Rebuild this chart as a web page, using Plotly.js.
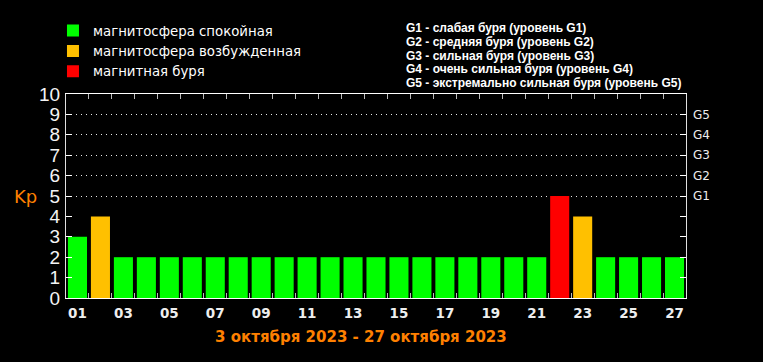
<!DOCTYPE html>
<html><head><meta charset="utf-8">
<script src="https://cdn.plot.ly/plotly-3.0.1.min.js"></script>
<style>html,body{margin:0;padding:0;background:#000;}#chart{width:763px;height:362px;}</style>
</head><body><div id="chart"></div>
<script>
// ---- data ----
const days = [1,2,3,4,5,6,7,8,9,10,11,12,13,14,15,16,17,18,19,20,21,22,23,24,25,26,27];
const kp   = [3,4,2,2,2,2,2,2,2,2,2,2,2,2,2,2,2,2,2,2,2,5,4,2,2,2,2];
const dayLabels = ['01','03','05','07','09','11','13','15','17','19','21','23','25','27'];
const dayLabelVals = [1,3,5,7,9,11,13,15,17,19,21,23,25,27];
const statusNames = ['магнитосфера спокойная','магнитосфера возбужденная','магнитная буря'];
const statusColors = ['#00ff00','#ffc000','#ff0000'];
const gLevels = [5,6,7,8,9];
const gLabels = ['G1','G2','G3','G4','G5'];
const kpTicks = [0,1,2,3,4,5,6,7,8,9,10];
const dateRange = '3 октября 2023 - 27 октября 2023';
const gLegend = ['G1 - слабая буря (уровень G1)','G2 - средняя буря (уровень G2)','G3 - сильная буря (уровень G3)','G4 - очень сильная буря (уровень G4)','G5 - экстремально сильная буря (уровень G5)'];

function status(v){ return v>=5 ? 2 : (v>=4 ? 1 : 0); }
const traces = statusNames.map((name,si)=>{
  const xs=[], ys=[];
  days.forEach((d,i)=>{ if(status(kp[i])===si){ xs.push(d); ys.push(kp[i]); } });
  return {type:'bar', x:xs, y:ys, width:0.83, name:name, marker:{color:statusColors[si], line:{width:0}}, hoverinfo:'skip'};
});
// empty helper trace so the overlay axes (labels, G-levels, grid) get drawn
traces.push({type:'scatter', mode:'markers', x:[], y:[], xaxis:'x2', yaxis:'y2', showlegend:false, hoverinfo:'skip'});

const boundaries = days.slice(0,-1).map(d=>d+0.5);
const xr=[0.5,27.5];
const frame='#e0e0e0';
const annotations = [
  {text:'Kp', xref:'paper', yref:'y', x:(39-66)/620, y:5, xanchor:'right', yanchor:'middle', showarrow:false,
   font:{family:'DejaVu Sans', size:18, color:'#ff8000'}}
];
gLegend.forEach((t,i)=>{
  annotations.push({text:'<b>'+t+'</b>', xref:'paper', yref:'paper', x:(404-66)/620, y:1+(94-(28+13.8*i))/204,
    xanchor:'left', yanchor:'middle', align:'left', showarrow:false,
    font:{family:'Liberation Sans', size:12, color:'#fff'}});
});
const layout = {
  width:763, height:362,
  paper_bgcolor:'#000', plot_bgcolor:'#000',
  margin:{l:66, r:77, t:94, b:64},
  barmode:'overlay',
  showlegend:true,
  legend:{x:-0.021, xanchor:'left', y:1.385, yanchor:'top', bgcolor:'rgba(0,0,0,0)',
          font:{family:'DejaVu Sans', size:13.3, color:'#fff'}, tracegroupgap:0, itemclick:false},
  font:{family:'DejaVu Sans', color:'#fff'},
  title:{text:'<b>'+dateRange+'</b>', x:0.473, xanchor:'center', xref:'container', y:0.069, yanchor:'middle', yref:'container',
         font:{family:'DejaVu Sans', size:15, color:'#ff8000'}},
  xaxis:{range:xr, tickvals:boundaries, ticks:'inside', ticklen:5, tickcolor:'#bbb', mirror:'ticks',
         showticklabels:false, showgrid:false, zeroline:false, showline:true, linecolor:'#fff', linewidth:1},
  xaxis2:{range:xr, overlaying:'x', anchor:'y2', side:'bottom', tickvals:dayLabelVals, ticktext:dayLabels, ticks:'',
          showgrid:false, zeroline:false, showline:false, ticklabelstandoff:5,
          tickfont:{family:'DejaVu Sans', size:13.5, color:'#eee', weight:'bold'}},
  yaxis:{range:[0,10], tickvals:kpTicks, ticks:'inside', ticklen:6, tickcolor:'#fff', mirror:'ticks',
         showgrid:false, zeroline:false, showline:true, linecolor:frame,
         tickfont:{family:'Liberation Sans', size:19, color:'#f4f4f4'}, ticklabelstandoff:1},
  yaxis2:{range:[0,10], overlaying:'y', anchor:'x2', side:'right', tickvals:gLevels, ticktext:gLabels,
          ticks:'', showgrid:true, gridcolor:'#e8e8e8', griddash:'1px,4px', gridwidth:1, zeroline:false, showline:false,
          tickfont:{family:'DejaVu Sans', size:12, color:'#eee'}, ticklabelstandoff:6},
  annotations:annotations
};
Plotly.newPlot('chart', traces, layout, {staticPlot:true, displayModeBar:false});
</script></body></html>
